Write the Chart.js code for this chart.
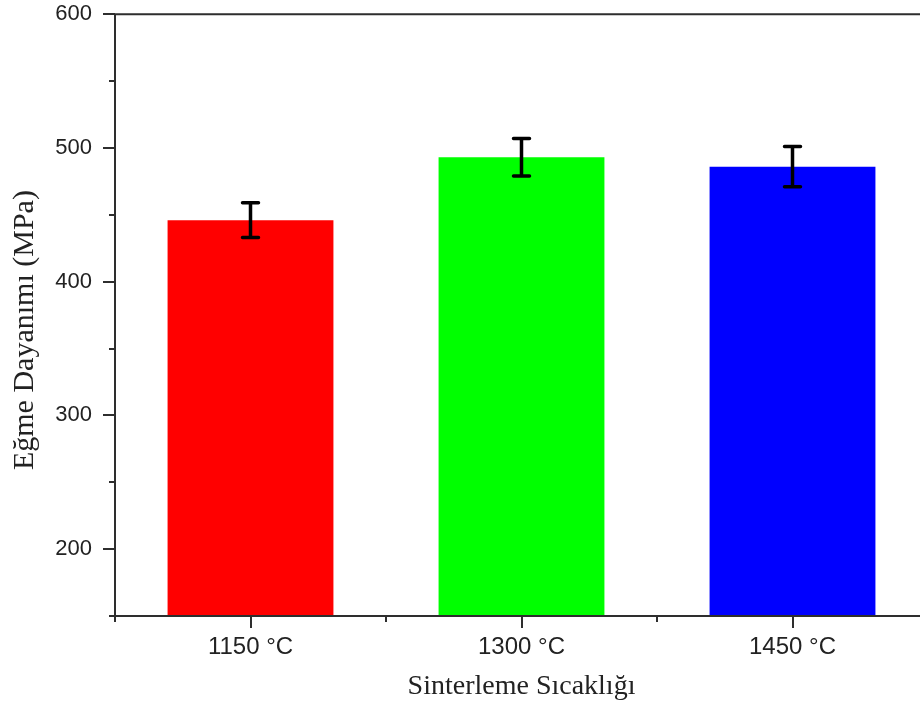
<!DOCTYPE html>
<html>
<head>
<meta charset="utf-8">
<script src="https://cdn.jsdelivr.net/npm/chart.js@4.4.1/dist/chart.umd.min.js"></script>
<style>
  html, body { margin: 0; padding: 0; background: #fff; overflow: hidden; }
  #wrap { width: 940px; height: 727px; margin-top: -22px; }
</style>
</head>
<body>
<div id="wrap"><canvas id="chart" width="940" height="727"></canvas></div>
<script>
// data
const categories = ['1150 °C', '1300 °C', '1450 °C'];
const strength = [446, 493, 486];
const errors = [13, 14, 15];
const barColors = ['#ff0000', '#00ff00', '#0000ff'];

const axisColor = '#2e2e2e';

// error bars + tick marks + top frame line
const extrasPlugin = {
    id: 'extras',
    afterDatasetsDraw(chart) {
        const ctx = chart.ctx;
        const y = chart.scales.y;
        const meta = chart.getDatasetMeta(0);

        ctx.save();
        ctx.strokeStyle = '#000';
        ctx.lineWidth = 3.5;
        ctx.lineCap = 'round';
        meta.data.forEach((bar, i) => {
            const cx = bar.x;
            const top = y.getPixelForValue(strength[i] + errors[i]);
            const bottom = y.getPixelForValue(strength[i] - errors[i]);
            ctx.beginPath();
            ctx.moveTo(cx, top);
            ctx.lineTo(cx, bottom);
            ctx.moveTo(cx - 8, top);
            ctx.lineTo(cx + 8, top);
            ctx.moveTo(cx - 8, bottom);
            ctx.lineTo(cx + 8, bottom);
            ctx.stroke();
        });
        ctx.restore();
    },
    afterDraw(chart) {
        const ctx = chart.ctx;
        const area = chart.chartArea;
        const x = chart.scales.x;
        const y = chart.scales.y;

        ctx.save();
        ctx.strokeStyle = axisColor;
        ctx.lineWidth = 2;
        ctx.beginPath();
        // frame: left, bottom, top
        ctx.moveTo(area.left, area.top);
        ctx.lineTo(area.left, area.bottom);
        ctx.lineTo(area.right, area.bottom);
        ctx.moveTo(area.left, area.top);
        ctx.lineTo(area.right, area.top);

        // y ticks, major every 100, minor every 50
        for (let v = y.min; v <= y.max; v += 50) {
            const py = Math.round(y.getPixelForValue(v));
            const len = v % 100 === 0 ? 12 : 6;
            ctx.moveTo(area.left - len, py);
            ctx.lineTo(area.left, py);
        }

        // x ticks, major at categories, minor at boundaries
        categories.forEach((c, i) => {
            const px = Math.round(x.getPixelForValue(i));
            ctx.moveTo(px, area.bottom);
            ctx.lineTo(px, area.bottom + 12);
            const bx = Math.round(x.getPixelForValue(i - 0.5));
            ctx.moveTo(bx, area.bottom);
            ctx.lineTo(bx, area.bottom + 6);
        });
        ctx.stroke();
        ctx.restore();
    }
};

new Chart(document.getElementById('chart'), {
    type: 'bar',
    data: {
        labels: categories,
        datasets: [{
            data: strength,
            backgroundColor: barColors,
            borderWidth: 0,
            barPercentage: 0.612,
            categoryPercentage: 1
        }]
    },
    options: {
        responsive: false,
        animation: false,
        layout: { autoPadding: false, padding: { top: 14, right: 12, bottom: 2, left: 7 } },
        plugins: {
            legend: { display: false },
            tooltip: { enabled: false }
        },
        scales: {
            x: {
                grid: { display: false, drawTicks: false },
                border: { display: false },
                afterFit: scale => { scale.height = 87; },
                ticks: {
                    color: '#222',
                    padding: 17,
                    font: { family: 'Liberation Sans', size: 24 }
                },
                title: {
                    display: true,
                    text: 'Sinterleme Sıcaklığı',
                    color: '#222',
                    padding: { top: 4, bottom: 0 },
                    font: { family: 'Liberation Serif', size: 28 }
                }
            },
            y: {
                min: 150,
                max: 600,
                grid: { display: false, drawTicks: false },
                border: { display: false },
                afterFit: scale => { scale.width = 108; },
                ticks: {
                    stepSize: 50,
                    color: '#222',
                    padding: 23,
                    font: { family: 'Liberation Sans', size: 22 },
                    callback: v => (v % 100 === 0 ? v : '')
                },
                title: {
                    display: true,
                    // trailing spaces nudge the title down to where the figure has it
                    text: 'Eğme Dayanımı (MPa)    ',
                    color: '#222',
                    padding: { top: 0, bottom: 11 },
                    font: { family: 'Liberation Serif', size: 30 }
                }
            }
        }
    },
    plugins: [extrasPlugin]
});
</script>
</body>
</html>
